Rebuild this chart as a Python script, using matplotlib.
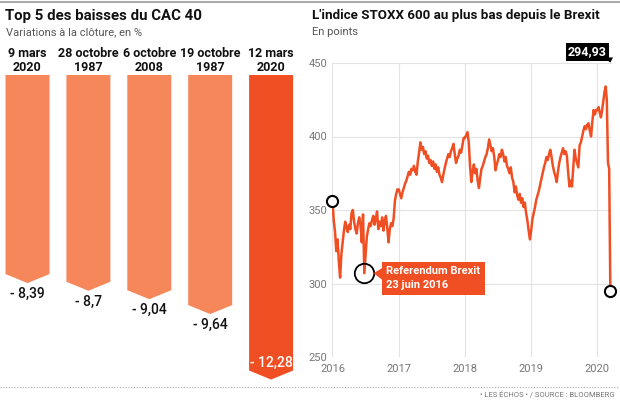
import matplotlib
matplotlib.use('Agg')
import matplotlib.pyplot as plt
import numpy as np

plt.rcParams['font.family'] = ['Roboto', 'DejaVu Sans']

# --- Top 5 des baisses du CAC 40 ---
dates_cac = ['9 mars\n2020', '28 octobre\n1987', '6 octobre\n2008', '19 octobre\n1987', '12 mars\n2020']
baisses = [-8.39, -8.7, -9.04, -9.64, -12.28]
labels_cac = ['- 8,39', '- 8,7', '- 9,04', '- 9,64', '- 12,28']

# --- STOXX 600, valeurs hebdomadaires ---
stoxx_2016 = [356, 343, 335, 322, 330, 315, 304, 320, 328, 336, 342, 338, 335, 340, 337, 348, 350, 342,
              337, 334, 341, 345, 340, 328, 347, 307, 320, 332, 337, 341, 339, 343, 346, 340, 344, 349,
              337, 342, 339, 345, 336, 342, 346, 338, 328, 337, 341, 339, 344, 356, 361, 364]
stoxx_2017 = [364, 361, 358, 362, 365, 368, 370, 373, 376, 374, 378, 377, 380, 376, 374, 383, 389, 396,
              391, 393, 388, 390, 385, 387, 382, 384, 380, 383, 378, 381, 376, 379, 374, 372, 369, 374,
              378, 382, 385, 388, 386, 390, 392, 395, 388, 382, 385, 387, 391, 389, 394, 399]
stoxx_2018 = [399, 401, 403, 396, 380, 369, 376, 381, 375, 378, 370, 365, 372, 378, 380, 383, 386, 388,
              392, 398, 394, 390, 392, 386, 377, 381, 384, 388, 386, 391, 388, 383, 386, 380, 378, 375,
              379, 372, 369, 362, 366, 360, 357, 361, 355, 358, 352, 355, 348, 343, 336, 330]
stoxx_2019 = [336, 344, 348, 352, 357, 360, 363, 367, 371, 375, 379, 382, 386, 384, 388, 391, 386, 380,
              376, 373, 369, 376, 382, 386, 389, 392, 388, 390, 387, 376, 366, 370, 366, 378, 391, 385,
              382, 379, 394, 396, 400, 404, 407, 405, 408, 409, 404, 400, 410, 418, 415, 418]
stoxx_2020 = [418, 420, 416, 413, 418, 424, 430, 434, 425, 382, 378, 294.93]
fin_2020 = 2020.195  # 12 mars 2020
brexit_idx = 25

years = [2016, 2017, 2018, 2019]
x_stoxx = []
y_stoxx = []
for yr, vals in zip(years, [stoxx_2016, stoxx_2017, stoxx_2018, stoxx_2019]):
    x_stoxx += list(yr + np.arange(len(vals)) / len(vals))
    y_stoxx += vals
x_stoxx += list(np.linspace(2020, fin_2020, len(stoxx_2020)))
y_stoxx += stoxx_2020
x_stoxx = np.array(x_stoxx)
y_stoxx = np.array(y_stoxx)

clair = '#F5875A'
fonce = '#F04E23'
gris = '#555555'

fig = plt.figure(figsize=(6.2, 4), dpi=100)
W, H = 620, 400

def ft(x, y, s, **kw):
    fig.text(x / W, 1 - y / H, s, **kw)

# traits haut et bas
fig.add_artist(plt.Line2D([0, 1], [1 - 1.5 / H, 1 - 1.5 / H], color='#aaaaaa', lw=1.5))
fig.add_artist(plt.Line2D([0, 1], [1 - 387 / H, 1 - 387 / H], color='#aaaaaa', lw=0.8, ls=(0, (1, 1.5))))

ft(5, 16, 'Top 5 des baisses du CAC 40', fontsize=10.8, fontweight='bold', va='center', color='#111111')
ft(6, 32, 'Variations à la clôture, en %', fontsize=8, va='center', color=gris)
ft(312, 16, "L'indice STOXX 600 au plus bas depuis le Brexit", fontsize=9.6, fontweight='bold', va='center', color='#111111')
ft(312, 32, 'En points', fontsize=8, va='center', color=gris)
ft(615, 395, '• LES ÉCHOS • / SOURCE : BLOOMBERG', fontsize=5.5, ha='right', va='center', color='#777777')

# ---- barres ----
s = 24.8  # px par point
ax1 = fig.add_axes([0, 1 - 387 / H, 300 / W, (387 - 75) / H])
sp = 60.9
ax1.set_xlim(-27.5 / sp, (300 - 27.5) / sp)
ax1.set_ylim(-(387 - 75) / s, 0)
ax1.axis('off')
bw = 44 / sp
d = 9 / s
for i, v in enumerate(baisses):
    c = fonce if i == len(baisses) - 1 else clair
    xs = [i - bw / 2, i + bw / 2, i + bw / 2, i, i - bw / 2]
    ys = [0, 0, v + d, v, v + d]
    ax1.fill(xs, ys, color=c, lw=0)
    ax1.annotate(dates_cac[i], (i, 0), xytext=(0, 0.5), textcoords='offset points', ha='center',
                 va='bottom', fontsize=9, fontweight='bold', color='#111111', linespacing=1.15,
                 annotation_clip=False)
    if i == len(baisses) - 1:
        ax1.annotate(labels_cac[i], (i, v), xytext=(0, 7), textcoords='offset points', ha='center',
                     va='bottom', fontsize=10, color='white', fontweight='medium')
    else:
        ax1.annotate(labels_cac[i], (i, v), xytext=(0, -3), textcoords='offset points', ha='center',
                     va='top', fontsize=10, color='#111111', fontweight='medium')

# ---- courbe ----
ax2 = fig.add_axes([332 / W, 1 - 357 / H, (612 - 332) / W, (357 - 63) / H])
ax2.set_ylim(250, 450)
ax2.set_xlim(2015.993, 2020.22)
ax2.set_yticks([250, 300, 350, 400, 450])
ax2.set_xticks([2016, 2017, 2018, 2019, 2020])
ax2.grid(True, color='#e3e3e3', lw=0.8)
ax2.set_axisbelow(True)
for sp_ in ax2.spines.values():
    sp_.set_visible(False)
ax2.tick_params(length=0, labelsize=8, labelcolor='#777777')
ax2.tick_params(axis='y', pad=3)
for lab in ax2.get_yticklabels():
    lab.set_horizontalalignment('left')
    lab.set_x(-19 / 280)
ax2.tick_params(axis='x', pad=5)

ax2.plot(x_stoxx, y_stoxx, color=fonce, lw=1.8, solid_joinstyle='round', zorder=3)
ax2.plot(x_stoxx[0], y_stoxx[0], 'o', ms=8, mfc='white', mec='black', mew=1.5, zorder=4, clip_on=False)
ax2.plot(x_stoxx[-1], y_stoxx[-1], 'o', ms=8, mfc='white', mec='black', mew=1.5, zorder=4, clip_on=False)
bx, by = x_stoxx[brexit_idx], y_stoxx[brexit_idx]
ax2.plot(bx, by, 'o', ms=14, mfc='none', mec='black', mew=1.3, zorder=4)

# étiquette Brexit
ax2.text(bx + 0.33, by - 3.3, 'Referendum Brexit\n23 juin 2016', color='white', fontsize=8,
         fontweight='bold', ha='left', va='center', linespacing=1.5, zorder=5,
         bbox=dict(boxstyle='square,pad=0.4', fc=fonce, ec='none'))
ax2.fill([bx + 0.14, bx + 0.27, bx + 0.27], [by, by + 3.5, by - 4.5], color=fonce, lw=0, zorder=5)

# étiquette valeur finale
lx, ly = x_stoxx[-1], y_stoxx[-1]
ax2.text(lx - 0.345, 457.5, '294,93', color='white', fontsize=9, fontweight='bold', ha='center',
         va='center', zorder=5, clip_on=False,
         bbox=dict(boxstyle='square,pad=0.2', fc='black', ec='none'))
ax2.fill([lx - 0.1, lx + 0.04, lx - 0.0], [453.8, 453.8, 450.3], color='black', lw=0, zorder=5,
         clip_on=False)

fig.savefig('out.png', dpi=100)
